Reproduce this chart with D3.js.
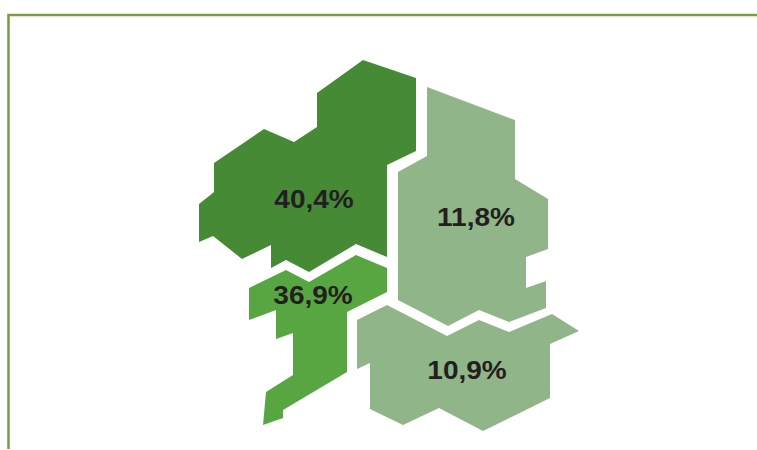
<!DOCTYPE html>
<html>
<head>
<meta charset="utf-8">
<script src="https://d3js.org/d3.v7.min.js"></script>
<style>
  html, body { margin: 0; padding: 0; background: #fff; overflow: hidden; }
  svg { display: block; }
</style>
</head>
<body>
<div id="chart"></div>
<script>
var width = 757;
var height = 450;

// shares
var regions = ["north", "south", "east", "southeast"];
var shares = ["40,4%", "36,9%", "11,8%", "10,9%"];
var fills = ["#478a36", "#58a642", "#90b589", "#90b589"];

// region outlines, in map units
var northOutline = [
  [363, 60], [416, 78], [416, 151], [387, 165], [387, 257], [356, 244],
  [309, 272], [286, 260], [271, 268], [271, 245], [242, 259], [213, 236],
  [199, 242], [199, 204], [214, 192], [214, 163], [264, 129], [294, 142],
  [317, 127], [317, 93]
];
var southOutline = [
  [356, 255], [387, 268], [387, 292], [347, 312], [347, 372], [283, 410],
  [283, 418], [263, 425], [266, 392], [293, 375], [293, 333], [276, 339],
  [276, 310], [249, 320], [249, 288], [286, 270], [309, 282]
];
var eastOutline = [
  [427, 87], [515, 120], [515, 179], [548, 199], [548, 249], [526, 257],
  [526, 288], [546, 281], [546, 308], [509, 322], [479, 310], [448, 326],
  [398, 300], [398, 172], [427, 156]
];
var southeastOutline = [
  [387, 305], [447, 336], [479, 320], [509, 332], [552, 314], [579, 331],
  [550, 344], [550, 398], [483, 431], [439, 408], [403, 425], [370, 409],
  [370, 363], [357, 369], [357, 320]
];
var outlines = [northOutline, southOutline, eastOutline, southeastOutline];

// label anchors in map units
var labelX = [314, 313, 476, 467];
var labelY = [200, 296, 218, 371];

var x = d3.scaleLinear().domain([0, 757]).range([0, width]);
var y = d3.scaleLinear().domain([0, 450]).range([0, height]);

var line = d3
  .line()
  .x(function (d) { return x(d[0]); })
  .y(function (d) { return y(d[1]); })
  .curve(d3.curveLinearClosed);

var svg = d3
  .select("#chart")
  .append("svg")
  .attr("width", width)
  .attr("height", height);

// frame: top and left rules only
svg
  .append("path")
  .attr("d", "M8.5,449V15H757")
  .attr("fill", "none")
  .attr("stroke", "#7b9b40")
  .attr("stroke-width", 2.5);

svg
  .selectAll("path.region")
  .data(regions)
  .enter()
  .append("path")
  .attr("class", "region")
  .attr("fill", function (d, i) { return fills[i]; })
  .attr("d", function (d, i) { return line(outlines[i]); });

// the picture's labels are stretched sideways, so scale x only
svg
  .selectAll("text.share")
  .data(shares)
  .enter()
  .append("text")
  .attr("class", "share")
  .attr("transform", function (d, i) {
    return "translate(" + x(labelX[i]) + "," + y(labelY[i]) + ") scale(1.12,1)";
  })
  .attr("text-anchor", "middle")
  .attr("dominant-baseline", "central")
  .style("font-family", "'Liberation Sans', Arial, sans-serif")
  .style("font-weight", "bold")
  .style("font-size", "25px")
  .style("fill", "#231f20")
  .text(function (d) { return d; });
</script>
</body>
</html>
